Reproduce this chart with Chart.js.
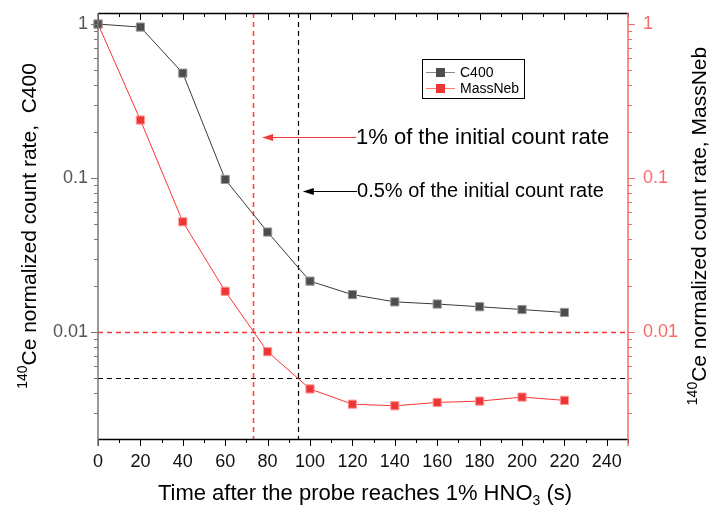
<!DOCTYPE html>
<html>
<head>
<meta charset="utf-8">
<script src="https://cdn.jsdelivr.net/npm/chart.js@4.4.0/dist/chart.umd.min.js"></script>
<style>
    html, body { margin: 0; padding: 0; background: #fff; }
</style>
</head>
<body>
<canvas id="grafico" width="717" height="506"></canvas>
<script>
// datos
const tiempos = [0, 20, 40, 60, 80, 100, 120, 140, 160, 180, 200, 220];
const c400 = [1.0, 0.956, 0.48, 0.098, 0.0446, 0.0214, 0.0175, 0.0157, 0.0152, 0.0146, 0.0140, 0.0134];
const massNeb = [1.0, 0.238, 0.052, 0.0184, 0.00745, 0.00427, 0.0034, 0.00332, 0.00349, 0.00356, 0.00378, 0.0036];
const ticksX = [0, 20, 40, 60, 80, 100, 120, 140, 160, 180, 200, 220, 240];
const ticksY = [0.01, 0.1, 1];

// líneas guía y notas
const guiaRojaX = 73.2;
const guiaNegraX = 94.5;
const guiaRojaY = 0.01;
const guiaNegraY = 0.005;
const notaTextos = ["1% of the initial count rate", "0.5% of the initial count rate"];
const notaY = [0.185, 0.0823];
const notaDesde = [121.7, 122.2];
const notaHasta = [77.4, 96.6];

const fuente = "'Liberation Sans', Arial, sans-serif";
const rojo = "#f23a3a";
const rojoEje = "#f56a6a";

const escribir = (ctx, partes, cx, cy) => {
    let total = 0;
    partes.forEach((p) => {
        ctx.font = `${p.size}px ${fuente}`;
        p.w = ctx.measureText(p.t).width;
        total += p.w;
    });
    let px = cx - total / 2;
    partes.forEach((p) => {
        ctx.font = `${p.size}px ${fuente}`;
        ctx.fillText(p.t, px, cy + p.dy);
        px += p.w;
    });
};

const flecha = (ctx, x0, x1, y, color) => {
    ctx.strokeStyle = color;
    ctx.fillStyle = color;
    ctx.lineWidth = 1.2;
    ctx.beginPath();
    ctx.moveTo(x0, y);
    ctx.lineTo(x1 + 8, y);
    ctx.stroke();
    ctx.beginPath();
    ctx.moveTo(x1, y);
    ctx.lineTo(x1 + 11, y - 3.5);
    ctx.lineTo(x1 + 11, y + 3.5);
    ctx.closePath();
    ctx.fill();
};

const guias = {
    id: "guias",
    beforeDatasetsDraw(chart) {
        const { ctx, chartArea: a, scales } = chart;
        ctx.save();
        ctx.setLineDash([5, 4]);
        const lineaV = (v, color, ancho) => {
            const px = Math.round(scales.x.getPixelForValue(v)) + 0.5;
            ctx.strokeStyle = color;
            ctx.lineWidth = ancho;
            ctx.beginPath();
            ctx.moveTo(px, a.top);
            ctx.lineTo(px, a.bottom);
            ctx.stroke();
        };
        const lineaH = (v, color, ancho) => {
            const py = Math.round(scales.y.getPixelForValue(v)) + 0.5;
            ctx.strokeStyle = color;
            ctx.lineWidth = ancho;
            ctx.beginPath();
            ctx.moveTo(a.left, py);
            ctx.lineTo(a.right, py);
            ctx.stroke();
        };
        lineaV(guiaRojaX, "#f44", 1.6);
        lineaV(guiaNegraX, "#000", 1.2);
        lineaH(guiaRojaY, "#f33", 1.4);
        lineaH(guiaNegraY, "#000", 1.2);
        ctx.restore();
    },
    afterDraw(chart) {
        const { ctx, chartArea: a, scales } = chart;
        const sx = scales.x;
        const sy = scales.y;
        ctx.save();

        // marcas del eje x (abajo hacia fuera, arriba hacia dentro)
        ctx.lineWidth = 1;
        ctx.strokeStyle = "#000";
        for (let v = 0; v <= 250; v += 10) {
            const px = Math.round(sx.getPixelForValue(v)) + 0.5;
            const mayor = v % 20 === 0;
            ctx.beginPath();
            ctx.moveTo(px, a.bottom);
            ctx.lineTo(px, a.bottom + (mayor ? 7 : 4));
            ctx.moveTo(px, a.top);
            ctx.lineTo(px, a.top + (mayor ? 7 : 4));
            ctx.stroke();
        }
        ctx.lineWidth = 1.5;
        ctx.beginPath();
        ctx.moveTo(a.left, a.top + 0.5);
        ctx.lineTo(a.right, a.top + 0.5);
        ctx.moveTo(a.left, a.bottom + 0.5);
        ctx.lineTo(a.right, a.bottom + 0.5);
        ctx.stroke();

        // marcas logarítmicas de los ejes y
        ctx.lineWidth = 1;
        for (let e = -3; e <= 0; e++) {
            for (let m = 1; m <= 9; m++) {
                const v = m * Math.pow(10, e);
                if (v < sy.min || v > sy.max) continue;
                const py = Math.round(sy.getPixelForValue(v)) + 0.5;
                const largo = m === 1 ? 7 : 4;
                ctx.strokeStyle = "#777";
                ctx.beginPath();
                ctx.moveTo(a.left, py);
                ctx.lineTo(a.left - largo, py);
                ctx.stroke();
                ctx.strokeStyle = rojoEje;
                ctx.beginPath();
                ctx.moveTo(a.right, py);
                ctx.lineTo(a.right + largo, py);
                ctx.stroke();
            }
        }
        ctx.lineWidth = 1.5;
        ctx.strokeStyle = "#777";
        ctx.beginPath();
        ctx.moveTo(a.left, a.top);
        ctx.lineTo(a.left, a.bottom + 7);
        ctx.stroke();
        ctx.strokeStyle = rojoEje;
        ctx.beginPath();
        ctx.moveTo(a.right, a.top);
        ctx.lineTo(a.right, a.bottom + 7);
        ctx.stroke();

        // flechas y notas
        const colores = [rojo, "#000"];
        const tamanos = [22, 20];
        notaTextos.forEach((t, i) => {
            const py = Math.round(sy.getPixelForValue(notaY[i])) + 0.5;
            const x0 = sx.getPixelForValue(notaDesde[i]);
            const x1 = sx.getPixelForValue(notaHasta[i]);
            flecha(ctx, x0, x1, py, colores[i]);
            ctx.fillStyle = "#000";
            ctx.font = `${tamanos[i]}px ${fuente}`;
            ctx.textAlign = "left";
            ctx.textBaseline = "middle";
            ctx.fillText(t, x0, py);
        });

        // leyenda
        ctx.lineWidth = 1;
        ctx.strokeStyle = "#000";
        ctx.strokeRect(422.5, 59.5, 102, 39);
        const series = [
            { nombre: "C400", linea: "#888", relleno: "#4d4d4d" },
            { nombre: "MassNeb", linea: "#f77", relleno: "#ee3636" },
        ];
        series.forEach((s, i) => {
            const py = 72 + i * 16;
            ctx.strokeStyle = s.linea;
            ctx.beginPath();
            ctx.moveTo(426, py + 0.5);
            ctx.lineTo(455, py + 0.5);
            ctx.stroke();
            ctx.fillStyle = s.relleno;
            ctx.fillRect(436, py - 4, 9, 9);
            ctx.fillStyle = "#000";
            ctx.font = `14px ${fuente}`;
            ctx.textAlign = "left";
            ctx.textBaseline = "middle";
            ctx.fillText(s.nombre, 460, py + 1);
        });

        // títulos de los ejes
        ctx.fillStyle = "#000";
        ctx.textAlign = "left";
        ctx.textBaseline = "alphabetic";
        escribir(ctx, [
            { t: "Time after the probe reaches 1% HNO", size: 22, dy: 0 },
            { t: "3", size: 14, dy: 5 },
            { t: " (s)", size: 22, dy: 0 },
        ], 365, 500);

        const centroY = (a.top + a.bottom) / 2;
        ctx.save();
        ctx.translate(36, centroY);
        ctx.rotate(-Math.PI / 2);
        escribir(ctx, [
            { t: "140", size: 14, dy: -9 },
            { t: "Ce normalized count rate,  C400", size: 21, dy: 0 },
        ], 0, 0);
        ctx.restore();

        ctx.save();
        ctx.translate(706, centroY);
        ctx.rotate(-Math.PI / 2);
        escribir(ctx, [
            { t: "140", size: 14, dy: -9 },
            { t: "Ce normalized count rate, MassNeb", size: 21, dy: 0 },
        ], 0, 0);
        ctx.restore();

        ctx.restore();
    },
};

const etiquetaLog = (v) => {
    const e = Math.log10(v);
    return Math.abs(e - Math.round(e)) < 1e-6 ? String(Math.pow(10, Math.round(e))) : "";
};

const sinRelleno = (s) => {
    s.paddingTop = 0;
    s.paddingBottom = 0;
    s.paddingLeft = 0;
    s.paddingRight = 0;
};

Chart.defaults.font.family = fuente;

const graficoCanvas = document.querySelector("#grafico");
const graficoActivo = new Chart(graficoCanvas.getContext("2d"), {
    type: "line",
    data: {
        datasets: [
            {
                label: "C400",
                data: tiempos.map((t, i) => ({ x: t, y: c400[i] })),
                yAxisID: "y",
                borderColor: "#3a3a3a",
                borderWidth: 1,
                pointStyle: "rect",
                pointRadius: 5.8,
                pointBackgroundColor: "#4d4d4d",
                pointBorderColor: "#999",
                pointBorderWidth: 1,
                clip: false,
            },
            {
                label: "MassNeb",
                data: tiempos.map((t, i) => ({ x: t, y: massNeb[i] })),
                yAxisID: "y2",
                borderColor: "#f33",
                borderWidth: 1,
                pointStyle: "rect",
                pointRadius: 5.8,
                pointBackgroundColor: "#ee3636",
                pointBorderColor: "#f99",
                pointBorderWidth: 1,
                clip: false,
            },
        ],
    },
    options: {
        responsive: false,
        animation: false,
        devicePixelRatio: 1,
        layout: { padding: { top: 13, left: 0, right: 0, bottom: 0 } },
        plugins: { legend: { display: false }, tooltip: { enabled: false } },
        scales: {
            x: {
                type: "linear",
                min: 0,
                max: 250,
                afterFit: (s) => { s.height = 67; sinRelleno(s); },
                afterBuildTicks: (s) => { s.ticks = ticksX.map((v) => ({ value: v })); },
                grid: { display: false, drawTicks: false },
                border: { display: false },
                ticks: { color: "#111", font: { size: 18 }, padding: 12, maxRotation: 0 },
            },
            y: {
                type: "logarithmic",
                position: "left",
                min: 0.00202,
                max: 1.18,
                afterFit: (s) => { s.width = 98; sinRelleno(s); },
                afterBuildTicks: (s) => { s.ticks = ticksY.map((v) => ({ value: v })); },
                grid: { display: false, drawTicks: false },
                border: { display: false },
                ticks: { color: "#555", font: { size: 18 }, padding: 10, autoSkip: false, callback: etiquetaLog },
            },
            y2: {
                type: "logarithmic",
                position: "right",
                min: 0.00202,
                max: 1.18,
                afterFit: (s) => { s.width = 89; sinRelleno(s); },
                afterBuildTicks: (s) => { s.ticks = ticksY.map((v) => ({ value: v })); },
                grid: { display: false, drawTicks: false },
                border: { display: false },
                ticks: { color: rojoEje, font: { size: 18 }, padding: 15, autoSkip: false, callback: etiquetaLog },
            },
        },
    },
    plugins: [guias],
});
</script>
</body>
</html>
